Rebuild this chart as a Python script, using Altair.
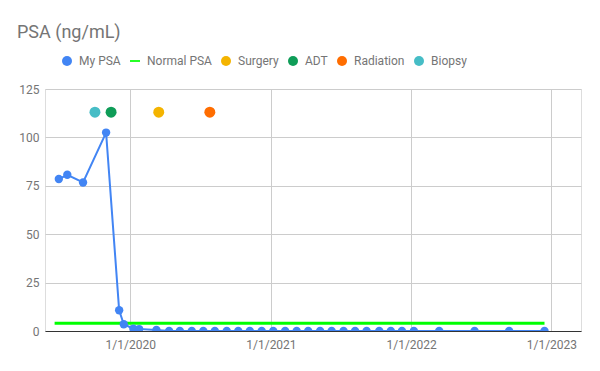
import altair as alt
import pandas as pd

# ---- data ----
psa_dates = ["2019-06-29", "2019-07-21", "2019-08-31", "2019-10-30", "2019-12-03",
             "2019-12-15", "2020-01-09", "2020-01-24", "2020-03-09", "2020-04-11",
             "2020-05-09", "2020-06-09", "2020-07-09", "2020-08-08", "2020-09-08",
             "2020-10-08", "2020-11-07", "2020-12-08", "2021-01-07", "2021-02-07",
             "2021-03-09", "2021-04-08", "2021-05-09", "2021-06-08", "2021-07-09",
             "2021-08-08", "2021-09-07", "2021-10-10", "2021-11-09", "2021-12-08",
             "2022-01-08", "2022-03-15", "2022-06-15", "2022-09-13", "2022-12-14"]
psa_values = [78.5, 80.7, 76.7, 102.5, 10.7, 3.5, 1.2, 1.0, 0.5, 0.0,
              0.0, 0.0, 0.0, 0.0, 0.0, 0.0, 0.0, 0.0, 0.0, 0.0,
              0.0, 0.0, 0.0, 0.0, 0.0, 0.0, 0.0, 0.0, 0.0, 0.0,
              0.0, 0.0, 0.0, 0.0, 0.0]

normal_dates = ["2019-06-18", "2022-12-14"]
normal_values = [4, 4]

event_names = ["Biopsy", "ADT", "Surgery", "Radiation"]
event_dates = ["2019-10-01", "2019-11-12", "2020-03-15", "2020-07-26"]
event_values = [113, 113, 113, 113]

series_order = ["My PSA", "Normal PSA", "Surgery", "ADT", "Radiation", "Biopsy"]
series_colors = ["#4285f4", "#00ff00", "#f4b400", "#0f9d58", "#ff6d00", "#46bdc6"]
series_shapes = ["circle", "M-1,-0.17L1,-0.17L1,0.17L-1,0.17Z",
                 "circle", "circle", "circle", "circle"]

year_ticks = [2020, 2021, 2022, 2023]
y_ticks = [0, 25, 50, 75, 100, 125]

# ---- tables ----
psa_df = pd.DataFrame({"date": psa_dates, "value": psa_values, "series": "My PSA"})
normal_df = pd.DataFrame({"date": normal_dates, "value": normal_values, "series": "Normal PSA"})
event_df = pd.DataFrame({"date": event_dates, "value": event_values, "series": event_names})

FONT = "Roboto"
GRAY = "#757575"

x_enc = alt.X(
    "date:T",
    title=None,
    scale=alt.Scale(type="utc",
                    domain=[alt.DateTime(year=2019, month=5, date=24, utc=True),
                            alt.DateTime(year=2023, month=3, date=19, utc=True)]),
    axis=alt.Axis(values=[alt.DateTime(year=y, month=1, date=1, utc=True) for y in year_ticks],
                  labelExpr="utcFormat(datum.value, '%-m/%-d/%Y')",
                  labelColor=GRAY, labelFont=FONT,
                  labelFontSize=12, ticks=False, domainColor="#333333", domainWidth=1,
                  gridColor="#cccccc", labelPadding=8),
)
y_enc = alt.Y(
    "value:Q",
    title=None,
    scale=alt.Scale(domain=[0, 125], nice=False),
    axis=alt.Axis(values=y_ticks, labelColor=GRAY, labelFont=FONT, labelFontSize=12,
                  ticks=False, domain=False, gridColor="#cccccc", labelPadding=6),
)

color_scale = alt.Scale(domain=series_order, range=series_colors)
shape_scale = alt.Scale(domain=series_order, range=series_shapes)

legend = alt.Legend(
    title=None, orient="none", direction="horizontal", legendX=16, legendY=-34,
    labelFont=FONT, labelFontSize=12, labelColor=GRAY, symbolSize=100,
    labelOffset=6, columnPadding=8, symbolStrokeWidth=0,
)

normal_line = alt.Chart(normal_df).mark_line(strokeWidth=3, clip=True).encode(
    x=x_enc, y=y_enc,
    color=alt.Color("series:N", scale=color_scale, legend=legend),
)

psa_line = alt.Chart(psa_df).mark_line(strokeWidth=2, clip=True).encode(
    x=x_enc, y=y_enc,
    color=alt.Color("series:N", scale=color_scale, legend=legend),
)

psa_points = alt.Chart(psa_df).mark_point(filled=True, opacity=1, size=70, clip=True).encode(
    x=x_enc, y=y_enc,
    color=alt.Color("series:N", scale=color_scale, legend=legend),
    shape=alt.Shape("series:N", scale=shape_scale, legend=legend),
)

event_points = alt.Chart(event_df).mark_point(filled=True, opacity=1, size=120, clip=True).encode(
    x=x_enc, y=y_enc,
    color=alt.Color("series:N", scale=color_scale, legend=legend),
    shape=alt.Shape("series:N", scale=shape_scale, legend=legend),
)

chart = alt.layer(normal_line, psa_line, psa_points, event_points).properties(
    width=536,
    height=242,
    autosize=alt.AutoSizeParams(type="none"),
    padding={"left": 37, "top": 81, "right": 11, "bottom": 30},
    title=alt.TitleParams("PSA (ng/mL)", anchor="start", frame="group", font=FONT,
                          fontSize=18, fontWeight="normal", color=GRAY, dx=-28, offset=13),
).configure_view(stroke=None).configure(background="white")

chart.save("out.html", embed_options={"renderer": "svg", "actions": False})
